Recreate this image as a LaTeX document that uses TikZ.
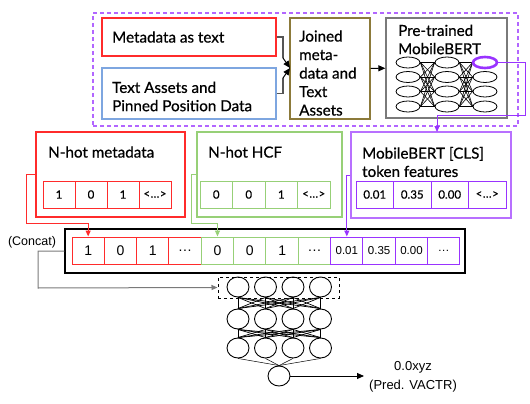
\documentclass[tikz,border=0pt]{standalone}
\usepackage{fontspec}
\setmainfont{Lato}[FakeBold=0.6]
\newfontfamily\arialf{Liberation Sans}
\usetikzlibrary{shapes.geometric,arrows.meta}
\definecolor{cred}{HTML}{FF2B2B}
\definecolor{cblue}{HTML}{7EA6E0}
\definecolor{cgold}{HTML}{8C7A3A}
\definecolor{cgray}{HTML}{7A7A7A}
\definecolor{cpurp}{HTML}{9933FF}
\definecolor{cdash}{HTML}{B266FF}
\definecolor{cgreen}{HTML}{97D077}
\newcommand\myell{.\kern0.6pt.\kern0.6pt.}
\newcommand\angell{<\kern0.5pt.\kern0.3pt.\kern0.3pt.\kern0.5pt>}
\tikzset{
  box/.style={draw, line width=1.3pt, rectangle, inner sep=0pt},
  ttl/.style={inner sep=0pt, anchor=west, align=left, font=\fontsize{15.2}{18.3}\selectfont},
  cell/.style={draw, line width=1pt, rectangle, inner sep=0pt, minimum height=27pt, font=\fontsize{11.5}{13}\selectfont},
  ccell/.style={draw, line width=1pt, rectangle, inner sep=0pt, minimum width=32.33pt, minimum height=27pt, font=\arialf\fontsize{14}{16}\selectfont},
  neu/.style={draw, ellipse, line width=0.8pt, inner sep=0pt, minimum width=24pt, minimum height=11pt},
  circ/.style={draw, ellipse, line width=0.9pt, inner sep=0pt, minimum width=22pt, minimum height=20pt},
  arr/.style={-{Triangle[length=7pt,width=6pt]}, line width=1pt},
  sarr/.style={-{Triangle[length=6pt,width=5pt]}, line width=1pt},
}
\begin{document}
\begin{tikzpicture}[x=1pt,y=-1pt]
\useasboundingbox (0,0) rectangle (530,404);
% top dashed group
\node[box, draw=cdash, line width=1.2pt, dash pattern=on 4pt off 3pt, minimum width=425pt, minimum height=113pt] (grp) at (305.5,69.5) {};
\node[box, draw=cred, minimum width=174pt, minimum height=38pt] (meta) at (189,37) {};
\node[ttl] (metat) at (112,37) {Metadata as text};
\node[box, draw=cblue, minimum width=174pt, minimum height=51pt] (ta) at (189,93.5) {};
\node[ttl] (tat) at (112,96.5) {Text Assets and\\Pinned Position Data};
\node[box, draw=cgold, minimum width=80pt, minimum height=101pt] (joined) at (330,68.5) {};
\node[ttl, font=\fontsize{15.2}{18.5}\selectfont] (joinedt) at (299,73) {Joined\\meta-\\data and\\Text\\Assets};
\node[box, draw=cgray, minimum width=121pt, minimum height=100pt] (bert) at (446.5,68) {};
\node[ttl] (bertt) at (398,39.5) {Pre-trained\\MobileBERT};
% MobileBERT network
\foreach \c/\x in {1/408,2/447,3/485}{
  \foreach \r/\y in {1/62.5,2/77,3/91.5,4/106.5}{
    \node[neu] (b\c\r) at (\x,\y) {};
  }
}
\foreach \i in {1,2,3,4}{\foreach \j in {1,2,3,4}{
  \draw[line width=0.6pt] (b1\i.east) -- (b2\j.west);
  \draw[line width=0.6pt] (b2\i.east) -- (b3\j.west);
}}
\node[neu, draw=cpurp, line width=2.6pt] (hl) at (b31) {};
% arrows top
\coordinate (m1) at (283,58);
\coordinate (m2) at (283,78);
\coordinate (jin) at (290,68);
\draw[cgray!70!black, line width=1.2pt] (meta.east) -| (m1);
\draw[cgray!70!black, line width=1.2pt] (ta.east) -| (m2);
\draw[arr] (m1) -- (jin);
\draw[arr] (m2) -- (jin);
\draw[arr] (joined) -- (bert);
% second row
\node[box, draw=cred, minimum width=149pt, minimum height=85pt] (nhot) at (110.5,174.5) {};
\node[ttl] (nhott) at (48,152) {N-hot metadata};
\node[box, draw=cgreen, minimum width=145pt, minimum height=85pt] (hcf) at (269.5,174.5) {};
\node[ttl] (hcft) at (208,152) {N-hot HCF};
\node[box, draw=cpurp!70, minimum width=160pt, minimum height=86pt] (cls) at (431,175) {};
\node[ttl] (clst) at (362,162) {MobileBERT [CLS]\\token features};
\foreach \v [count=\i] in {1,0,1,\angell}{
  \node[cell, draw=cred, minimum width=32pt] (n\i) at ({43+(\i-0.5)*32},194.5) {\v};
}
\foreach \v [count=\i] in {0,0,1,\angell}{
  \node[cell, draw=cgreen, minimum width=32.5pt] (h\i) at ({200+(\i-0.5)*32.5},194.5) {\v};
}
\foreach \v [count=\i] in {0.01,0.35,0.00,\angell}{
  \node[cell, draw=cpurp, minimum width=37.5pt] (k\i) at ({356+(\i-0.5)*37.5},194.5) {\v};
}
% concat
\node[box, draw=black, minimum width=400pt, minimum height=44pt] (concat) at (265,251) {};
\foreach \v/\col [count=\i] in {1/cred,0/cred,1/cred,\myell/cred,0/cgreen,0/cgreen,1/cgreen,\myell/cgreen}{
  \node[ccell, draw=\col] (c\i) at ({72+(\i-0.5)*32.33},250.5) {\v};
}
\foreach \v [count=\i from 9] in {0.01,0.35,0.00,\myell}{
  \node[ccell, draw=cpurp, font=\arialf\fontsize{11.5}{13}\selectfont] (c\i) at ({72+(\i-0.5)*32.33},250.5) {\v};
}
\node[inner sep=0pt, font=\arialf\fontsize{12.5}{15}\selectfont] (concatt) at (32,242) {(Concat)};
% connectors to concat
\coordinate (rA) at (26,223);
\coordinate (gA) at (191,223);
\draw[cred, sarr] (nhot.west) -| (rA) -| (c1.north);
\draw[cgreen, sarr] (hcf.west) -| (gA) -| (c5.north);
\draw[cpurp, sarr] (cls.west) -| (c9.north);
\coordinate (pA) at (525,115);
\coordinate (pB) at (437,115);
\coordinate (pC) at (437,132);
\draw[cpurp, sarr] (hl.east) -| (pA) -- (pB) -- (pC);
% bottom network
\node[draw, dashed, line width=1pt, inner sep=0pt, minimum width=121pt, minimum height=21pt] (dbox) at (278.5,287.5) {};
\foreach \r/\y in {1/287,2/319,3/348}{
  \foreach \c/\x in {1/238,2/265.5,3/293,4/320.5}{
    \node[circ] (d\r\c) at (\x,\y) {};
  }
}
\node[circ] (out) at (279,376) {};
\foreach \i in {1,2,3,4}{\foreach \j in {1,2,3,4}{
  \draw[line width=0.7pt] (d1\i.south) -- (d2\j.north);
  \draw[line width=0.7pt] (d2\i.south) -- (d3\j.north);
}
  \draw[line width=0.5pt] (d3\i.south) -- (out.north);
}
\coordinate (gB) at (38,288);
\draw[cgray, sarr] (concat.west) -| (gB) -- (dbox.west);
\node[inner sep=0pt, align=center, font=\arialf\fontsize{13}{19}\selectfont] (pred) at (413,376.5) {0.0xyz\\(Pred. VACTR)};
\coordinate (oe) at (364,376);
\draw[arr, line width=0.9pt] (out.east) -- (oe);
\end{tikzpicture}
\end{document}
